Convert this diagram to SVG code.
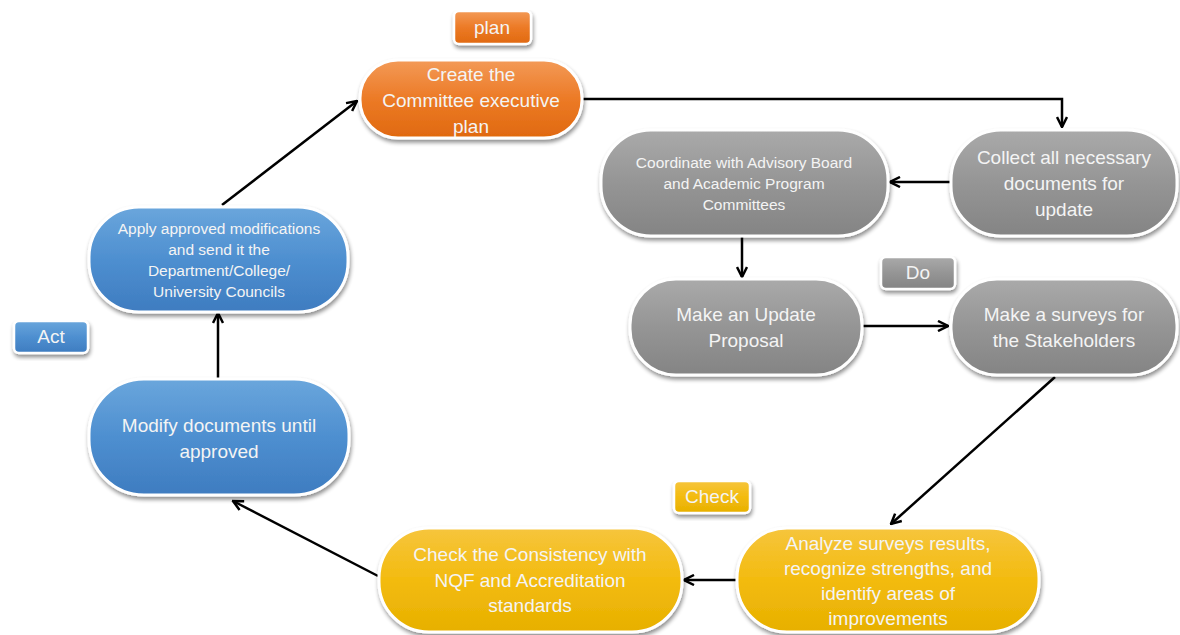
<svg xmlns="http://www.w3.org/2000/svg" width="1180" height="635" viewBox="0 0 1180 635">
  <style>
    .node { stroke: #ffffff; stroke-width: 3; filter: url(#shadow); }
    .tag { stroke: #ffffff; stroke-width: 2.5; filter: url(#shadow); }
    .orange { fill: url(#gOrange); }
    .gray { fill: url(#gGray); }
    .blue { fill: url(#gBlue); }
    .yellow { fill: url(#gYellow); }
    text { font-family: "Liberation Sans", Arial, sans-serif; fill: #f4f4f4; text-anchor: middle; dominant-baseline: central; }
    .t19 { font-size: 19px; }
    .t16 { font-size: 15.5px; }
    .conn { fill: none; stroke: #000000; stroke-width: 2.5; marker-end: url(#arrow); }
  </style>
  <defs>
    <filter id="shadow" x="-10%" y="-10%" width="125%" height="135%">
      <feGaussianBlur in="SourceAlpha" stdDeviation="2"/>
      <feOffset dx="1" dy="3" result="blur"/>
      <feComponentTransfer><feFuncA type="linear" slope="0.45"/></feComponentTransfer>
      <feMerge><feMergeNode/><feMergeNode in="SourceGraphic"/></feMerge>
    </filter>
    <linearGradient id="gOrange" x1="0" y1="0" x2="0" y2="1">
      <stop offset="0" stop-color="#f39a57"/>
      <stop offset="0.5" stop-color="#ec7a26"/>
      <stop offset="1" stop-color="#e0690f"/>
    </linearGradient>
    <linearGradient id="gGray" x1="0" y1="0" x2="0" y2="1">
      <stop offset="0" stop-color="#aaaaaa"/>
      <stop offset="0.5" stop-color="#959595"/>
      <stop offset="1" stop-color="#848484"/>
    </linearGradient>
    <linearGradient id="gBlue" x1="0" y1="0" x2="0" y2="1">
      <stop offset="0" stop-color="#6aa6dc"/>
      <stop offset="0.5" stop-color="#4e8fd0"/>
      <stop offset="1" stop-color="#3e7cc0"/>
    </linearGradient>
    <linearGradient id="gYellow" x1="0" y1="0" x2="0" y2="1">
      <stop offset="0" stop-color="#f6c53d"/>
      <stop offset="0.5" stop-color="#f3bb0f"/>
      <stop offset="1" stop-color="#e7b000"/>
    </linearGradient>
    <marker id="arrow" viewBox="0 0 10 10" refX="9" refY="5" markerWidth="5" markerHeight="5" orient="auto" markerUnits="strokeWidth">
      <path d="M1,1 L9,5 L1,9" fill="none" stroke="#000000" stroke-width="2"/>
    </marker>
  </defs>

  <!-- connectors -->
  <g id="connectors">
    <path class="conn" d="M583,99 H1062 V127"/>
    <path class="conn" d="M951,182 H890"/>
    <path class="conn" d="M742,236 V277"/>
    <path class="conn" d="M862,326 H948"/>
    <path class="conn" d="M1055,377 L891,524"/>
    <path class="conn" d="M737,580 H684"/>
    <path class="conn" d="M378,576 L233,501"/>
    <path class="conn" d="M218,378 V313"/>
    <path class="conn" d="M222,205 L357,101"/>
  </g>

  <!-- phase tags -->
  <g id="tag-plan">
    <rect class="tag orange" x="454" y="11" width="77" height="33" rx="5"/>
    <text class="t19" x="492" y="27">plan</text>
  </g>
  <g id="tag-do">
    <rect class="tag gray" x="881" y="257" width="74" height="32" rx="5"/>
    <text class="t19" x="918" y="272">Do</text>
  </g>
  <g id="tag-check">
    <rect class="tag yellow" x="674" y="481" width="76" height="32" rx="5"/>
    <text class="t19" x="712" y="496">Check</text>
  </g>
  <g id="tag-act">
    <rect class="tag blue" x="14" y="321" width="74" height="32" rx="5"/>
    <text class="t19" x="51" y="336">Act</text>
  </g>

  <!-- plan -->
  <g id="create-plan">
    <rect class="node orange" x="360" y="60" width="222" height="78" rx="38"/>
    <text class="t19" x="471" y="74">Create the</text>
    <text class="t19" x="471" y="100">Committee executive</text>
    <text class="t19" x="471" y="126">plan</text>
  </g>

  <!-- do -->
  <g id="collect-documents">
    <rect class="node gray" x="951" y="130" width="226" height="106" rx="50"/>
    <text class="t19" x="1064" y="157">Collect all necessary</text>
    <text class="t19" x="1064" y="183">documents for</text>
    <text class="t19" x="1064" y="209">update</text>
  </g>
  <g id="coordinate">
    <rect class="node gray" x="601" y="130" width="287" height="106" rx="50"/>
    <text class="t16" x="744" y="162">Coordinate with Advisory Board</text>
    <text class="t16" x="744" y="183">and Academic Program</text>
    <text class="t16" x="744" y="204">Committees</text>
  </g>
  <g id="update-proposal">
    <rect class="node gray" x="630" y="279" width="232" height="96" rx="46"/>
    <text class="t19" x="746" y="314">Make an Update</text>
    <text class="t19" x="746" y="340">Proposal</text>
  </g>
  <g id="stakeholder-surveys">
    <rect class="node gray" x="951" y="279" width="226" height="96" rx="46"/>
    <text class="t19" x="1064" y="314">Make a surveys for</text>
    <text class="t19" x="1064" y="340">the Stakeholders</text>
  </g>

  <!-- check -->
  <g id="analyze-results">
    <rect class="node yellow" x="737" y="528" width="302" height="104" rx="50"/>
    <text class="t19" x="888" y="543">Analyze surveys results,</text>
    <text class="t19" x="888" y="568">recognize strengths, and</text>
    <text class="t19" x="888" y="593">identify areas of</text>
    <text class="t19" x="888" y="618">improvements</text>
  </g>
  <g id="check-consistency">
    <rect class="node yellow" x="379" y="528" width="303" height="104" rx="50"/>
    <text class="t19" x="530" y="554">Check the Consistency with</text>
    <text class="t19" x="530" y="580">NQF and Accreditation</text>
    <text class="t19" x="530" y="605">standards</text>
  </g>

  <!-- act -->
  <g id="modify-documents">
    <rect class="node blue" x="89" y="379" width="260" height="116" rx="55"/>
    <text class="t19" x="219" y="425">Modify documents until</text>
    <text class="t19" x="219" y="451">approved</text>
  </g>
  <g id="apply-modifications">
    <rect class="node blue" x="89" y="207" width="259" height="105" rx="50"/>
    <text class="t16" x="219" y="228">Apply approved modifications</text>
    <text class="t16" x="219" y="249">and send it the</text>
    <text class="t16" x="219" y="270">Department/College/</text>
    <text class="t16" x="219" y="291">University Councils</text>
  </g>
</svg>
